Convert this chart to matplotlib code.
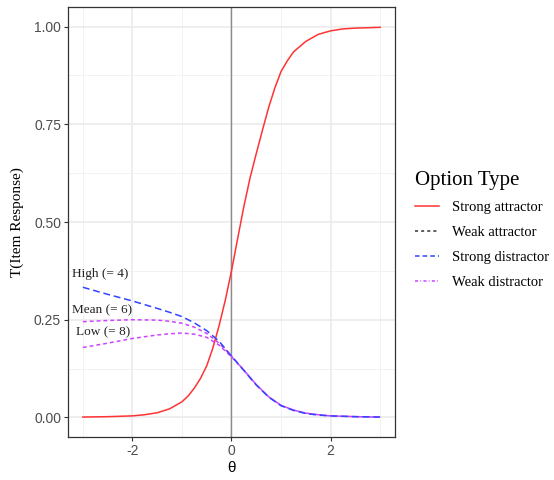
#!/usr/bin/env python3

import numpy as np
import matplotlib
matplotlib.use( 'Agg' )
import matplotlib.pyplot as plt
from matplotlib.lines import Line2D

# strong attractor curve
thetaAttr = [ -3.0, -2.5, -2.0, -1.75, -1.5, -1.25, -1.0, -0.875, -0.75,
              -0.625, -0.5, -0.375, -0.25, -0.125, 0.0, 0.125, 0.25, 0.375,
              0.5, 0.625, 0.75, 0.875, 1.0, 1.125, 1.25, 1.5, 1.75, 2.0,
              2.25, 2.5, 3.0 ]
strongAttractor = [ 0.001, 0.002, 0.004, 0.007, 0.012, 0.022, 0.040, 0.055,
                    0.075, 0.100, 0.132, 0.178, 0.235, 0.300, 0.375, 0.458,
                    0.540, 0.613, 0.675, 0.735, 0.793, 0.843, 0.885, 0.912,
                    0.935, 0.962, 0.980, 0.989, 0.994, 0.996, 0.998 ]

# distractor curves
thetaDist = [ -3.0, -2.5, -2.0, -1.5, -1.25, -1.0, -0.75, -0.5, -0.25, 0.0,
              0.25, 0.5, 0.75, 1.0, 1.25, 1.5, 1.75, 2.0, 2.5, 3.0 ]

strongDistractor = [ 0.333, 0.315, 0.298, 0.279, 0.269, 0.258, 0.242, 0.222,
                     0.195, 0.157, 0.12, 0.083, 0.052, 0.030, 0.018, 0.010,
                     0.006, 0.004, 0.002, 0.001 ]

weakDistractorMean = [ 0.245, 0.248, 0.250, 0.249, 0.246, 0.241, 0.231,
                       0.215, 0.190, 0.157, 0.121, 0.084, 0.053, 0.031,
                       0.019, 0.011, 0.007, 0.004, 0.002, 0.001 ]

weakDistractorLow = [ 0.179, 0.190, 0.202, 0.211, 0.214, 0.216, 0.213,
                      0.205, 0.185, 0.155, 0.121, 0.084, 0.053, 0.031,
                      0.019, 0.011, 0.007, 0.004, 0.002, 0.001 ]

curveLabels = [ 'High (= 4)', 'Mean (= 6)', 'Low (= 8)' ]
labelX = [ -3.22, -3.22, -3.14 ]
labelY = [ 0.368, 0.274, 0.218 ]

legendLabels = [ 'Strong attractor', 'Weak attractor',
                 'Strong distractor', 'Weak distractor' ]
yTicks = [ 0.0, 0.25, 0.50, 0.75, 1.00 ]
yTickLabels = [ '0.00', '0.25', '0.50', '0.75', '1.00' ]
xTicks = [ -2, 0, 2 ]

serif = 'Liberation Serif'
sans  = 'Liberation Sans'

fig = plt.figure( figsize = ( 5.54, 4.80 ), dpi = 100 )
ax = fig.add_axes( [ 0.1227, 0.0896, 0.5903, 0.8958 ] )

ax.set_xlim( -3.3, 3.3 )
ax.set_ylim( -0.05, 1.05 )

# ggplot style grid
for v in [ -3, -1, 1, 3 ]:
    ax.axvline( v, color = '#F2F2F2', lw = 0.7, zorder = 0 )
for v in [ 0.125, 0.375, 0.625, 0.875 ]:
    ax.axhline( v, color = '#F2F2F2', lw = 0.7, zorder = 0 )
for v in xTicks:
    ax.axvline( v, color = '#EBEBEB', lw = 1.2, zorder = 0 )
for v in yTicks:
    ax.axhline( v, color = '#EBEBEB', lw = 1.2, zorder = 0 )

ax.axvline( 0, color = '#8C8C8C', lw = 1.0, zorder = 1 )

ax.plot( thetaAttr, strongAttractor, color = '#FF3333', lw = 1.1, zorder = 3 )
ax.plot( thetaDist, weakDistractorMean, color = '#CC44FF', lw = 1.1,
         dashes = ( 2.5, 2.0 ), zorder = 3 )
ax.plot( thetaDist, weakDistractorLow, color = '#CC44FF', lw = 1.1,
         dashes = ( 2.5, 2.0 ), zorder = 3 )
ax.plot( thetaDist, strongDistractor, color = '#3344FF', lw = 1.1,
         dashes = ( 4.5, 2.5 ), zorder = 4 )

for i in range( len( curveLabels ) ):
    ax.text( labelX[i], labelY[i], curveLabels[i], family = serif,
             fontsize = 9.5, color = '#222222', va = 'center', ha = 'left' )

ax.set_xticks( xTicks )
ax.set_xticklabels( [ '{:d}'.format( v ) for v in xTicks ] )
ax.set_yticks( yTicks )
ax.set_yticklabels( yTickLabels )
for lab in ax.get_xticklabels() + ax.get_yticklabels():
    lab.set_family( sans )
    lab.set_fontsize( 10 )
    lab.set_color( '#4D4D4D' )
ax.tick_params( length = 3, width = 0.8, color = '#333333', pad = 2 )

for s in ax.spines.values():
    s.set_color( '#333333' )
    s.set_linewidth( 0.9 )

ax.set_xlabel( 'θ', family = sans, fontsize = 11, labelpad = 2 )
ax.set_ylabel( 'T(Item Response)', family = serif, fontsize = 11,
               labelpad = 7 )

handles = [ Line2D( [], [], color = '#FF3333', lw = 1.1 ),
            Line2D( [], [], color = '#333333', lw = 1.1, dashes = ( 2, 2 ) ),
            Line2D( [], [], color = '#3344FF', lw = 1.1, dashes = ( 3, 2 ) ),
            Line2D( [], [], color = '#CC44FF', lw = 1.1,
                    dashes = ( 2, 1.5, 0.5, 1.5 ) ) ]
leg = fig.legend( handles, legendLabels, loc = 'upper left',
                  bbox_to_anchor = ( 0.726, 0.672 ), frameon = False,
                  title = 'Option Type', handlelength = 1.6,
                  handletextpad = 0.9, labelspacing = 0.8,
                  prop = { 'family': serif, 'size': 10.5 },
                  title_fontproperties = { 'family': serif, 'size': 15 } )
leg._legend_box.align = 'left'

fig.savefig( 'out.png', dpi = 100 )
plt.close()
